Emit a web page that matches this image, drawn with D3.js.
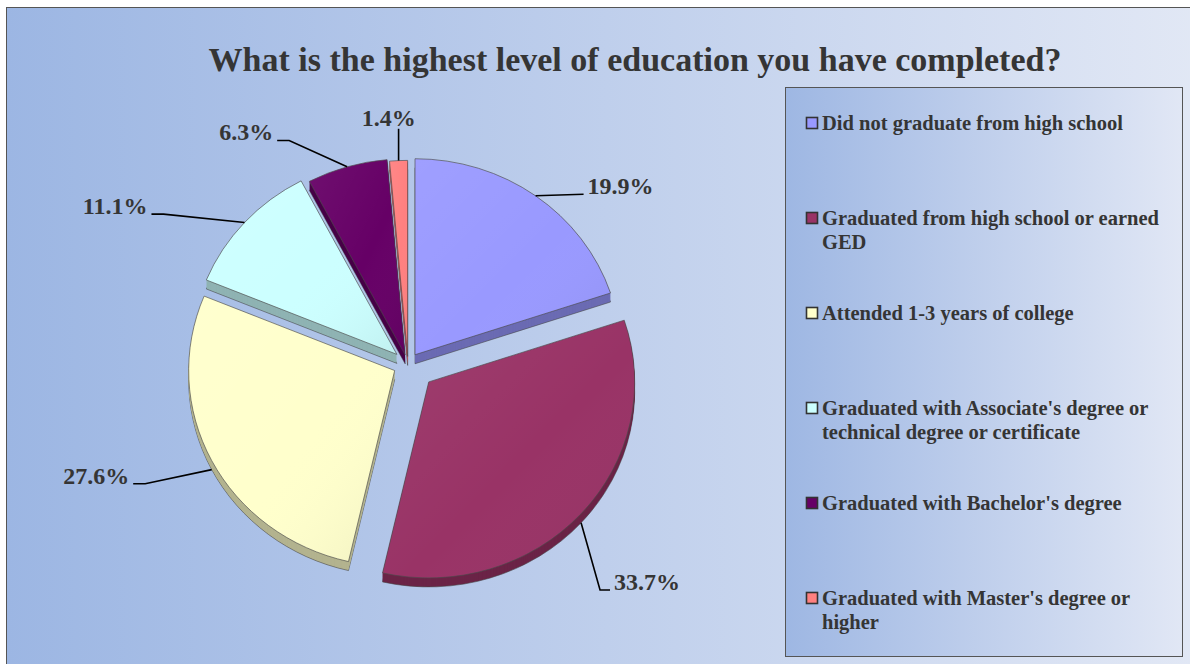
<!DOCTYPE html>
<html>
<head>
<meta charset="utf-8">
<script src="https://cdn.jsdelivr.net/npm/d3@7"></script>
<style>
  html, body { margin: 0; padding: 0; background: #ffffff; }
  svg { display: block; }
  text { font-family: "Liberation Serif", "Times New Roman", serif; font-weight: bold; fill: #353535; }
</style>
</head>
<body>
<svg id="chart" width="1190" height="664"></svg>
<script>
// Survey answers: share of respondents by highest completed education
const titleText = "What is the highest level of education you have completed?";
const categories = [
  "Did not graduate from high school",
  "Graduated from high school or earned GED",
  "Attended 1-3 years of college",
  "Graduated with Associate's degree or technical degree or certificate",
  "Graduated with Bachelor's degree",
  "Graduated with Master's degree or higher"
];
const values = [19.9, 33.7, 27.6, 11.1, 6.3, 1.4];
const valueLabels = ["19.9%", "33.7%", "27.6%", "11.1%", "6.3%", "1.4%"];

// Slice colours
const colors = ["#9999ff", "#993366", "#ffffcc", "#ccffff", "#660066", "#ff8080"];

// Layout
const W = 1190, H = 664;
const cx = 408, cy = 364, rx = 206, ry = 196, depth = 9;
const ky = ry / rx;
const explode = [12, 28, 15, 15, 10, 8];          // pull-out of each slice, px
// label baseline position around the pie centre: [angle deg, distance px]
const labelPolar = [[51.4, 272], [133.4, 329], [249, 334], [297.1, 329], [324.1, 276], [355.4, 239]];

const svg = d3.select("#chart");
const defs = svg.append("defs");

const bg = defs.append("linearGradient").attr("id", "bgGrad")
  .attr("x1", "0%").attr("x2", "100%").attr("y1", "0%").attr("y2", "0%");
bg.append("stop").attr("offset", "0%").attr("stop-color", "#9cb6e3");
bg.append("stop").attr("offset", "100%").attr("stop-color", "#e2e8f5");

const lg = defs.append("linearGradient").attr("id", "legGrad")
  .attr("x1", "0%").attr("x2", "100%").attr("y1", "0%").attr("y2", "0%");
lg.append("stop").attr("offset", "0%").attr("stop-color", "#9eb7e3");
lg.append("stop").attr("offset", "100%").attr("stop-color", "#e1e7f5");

const shine = defs.append("linearGradient").attr("id", "shine")
  .attr("x1", "0%").attr("x2", "100%").attr("y1", "0%").attr("y2", "100%");
shine.append("stop").attr("offset", "0%").attr("stop-color", "#ffffff").attr("stop-opacity", 0.06);
shine.append("stop").attr("offset", "55%").attr("stop-color", "#ffffff").attr("stop-opacity", 0.0);
shine.append("stop").attr("offset", "100%").attr("stop-color", "#000000").attr("stop-opacity", 0.06);

// Chart area
svg.append("rect").attr("x", 6.5).attr("y", 7.5).attr("width", W + 10).attr("height", H + 10)
  .attr("fill", "url(#bgGrad)").attr("stroke", "#555").attr("stroke-width", 1);

// Title
svg.append("text").attr("x", 635).attr("y", 71).attr("text-anchor", "middle")
  .style("font-size", "34px").text(titleText);

// Pie
const pie = d3.pie().sort(null).value(d => d).startAngle(0).endAngle(2 * Math.PI);
const arcs = pie(values);
const arc = d3.arc().innerRadius(0).outerRadius(rx);

const slices = arcs.map((a, i) => {
  const mid = (a.startAngle + a.endAngle) / 2;
  return {
    a, i, mid,
    ox: cx + Math.sin(mid) * explode[i],
    oy: cy - Math.cos(mid) * explode[i] * ky
  };
});

// back-to-front drawing order
const order = slices.slice().sort((p, q) => (-Math.cos(p.mid)) - (-Math.cos(q.mid)));

const pieG = svg.append("g");
order.forEach(s => {
  const g = pieG.append("g");
  const side = d3.color(colors[s.i]).darker(1.0).formatHex();
  for (let k = depth; k >= 1; k--) {
    g.append("path")
      .attr("d", arc(s.a))
      .attr("transform", `translate(${s.ox},${s.oy + k}) scale(1,${ky})`)
      .attr("fill", side)
      .attr("stroke", k === depth ? "#444" : "none")
      .attr("stroke-width", 0.8 / ky)
      .attr("stroke-opacity", 0.7);
  }
  g.append("path")
    .attr("d", arc(s.a))
    .attr("transform", `translate(${s.ox},${s.oy}) scale(1,${ky})`)
    .attr("fill", colors[s.i])
    .attr("stroke", "#4a4a4a")
    .attr("stroke-width", 0.9)
    .attr("stroke-opacity", 0.75);
  g.append("path")
    .attr("d", arc(s.a))
    .attr("transform", `translate(${s.ox},${s.oy}) scale(1,${ky})`)
    .attr("fill", "url(#shine)");
});

// Value labels with leader lines
const labelG = svg.append("g");
slices.forEach(s => {
  const [deg, dist] = labelPolar[s.i];
  const t = deg * Math.PI / 180;
  const lx = cx + Math.sin(t) * dist;
  const ly = cy - Math.cos(t) * dist;
  const txt = labelG.append("text")
    .attr("x", lx).attr("y", ly).attr("text-anchor", "middle")
    .style("font-size", "24px").text(valueLabels[s.i]);
  const bb = txt.node().getBBox();

  // anchor on the slice rim at its mid-angle (front slices anchor on the side wall)
  const ax = s.ox + Math.sin(s.mid) * rx;
  const ay = s.oy - Math.cos(s.mid) * ry + (Math.cos(s.mid) < 0 ? depth : 0);

  let pts;
  if (Math.abs(lx - ax) < 25) {
    pts = [[ax, ay], [ax, bb.y + bb.height - 2]];
  } else if (lx > ax) {
    const ex = bb.x - 4;
    pts = Math.abs(ly - ay) < 15 ? [[ax, ay], [ex, ly]] : [[ax, ay], [ex - 10, ly], [ex, ly]];
  } else {
    const ex = bb.x + bb.width + 4;
    pts = [[ax, ay], [ex + 12, ly], [ex, ly]];
  }
  labelG.append("path")
    .attr("d", d3.line()(pts))
    .attr("fill", "none").attr("stroke", "#000").attr("stroke-width", 1.6);
});

// Legend
const legX = 785.5, legY = 87.5, legW = 397, legH = 569;
svg.append("rect").attr("x", legX).attr("y", legY).attr("width", legW).attr("height", legH)
  .attr("fill", "url(#legGrad)").attr("stroke", "#555").attr("stroke-width", 1);

const legendStep = 95, firstBaseline = 130, lineH = 23.5, maxTextW = 345;
const legG = svg.append("g");
categories.forEach((c, i) => {
  const base = firstBaseline + i * legendStep;
  legG.append("rect").attr("x", 806.5).attr("y", base - 12.5).attr("width", 11).attr("height", 11)
    .attr("fill", colors[i]).attr("stroke", "#333").attr("stroke-width", 1.6);
  const t = legG.append("text").attr("x", 822).attr("y", base).style("font-size", "20.5px");
  const words = c.split(" ");
  let line = [], lineNo = 0;
  let tspan = t.append("tspan").attr("x", 822).attr("y", base);
  words.forEach(w => {
    line.push(w);
    tspan.text(line.join(" "));
    if (tspan.node().getComputedTextLength() > maxTextW && line.length > 1) {
      line.pop();
      tspan.text(line.join(" "));
      line = [w];
      lineNo++;
      tspan = t.append("tspan").attr("x", 822).attr("y", base + lineNo * lineH).text(w);
    }
  });
});
</script>
</body>
</html>
